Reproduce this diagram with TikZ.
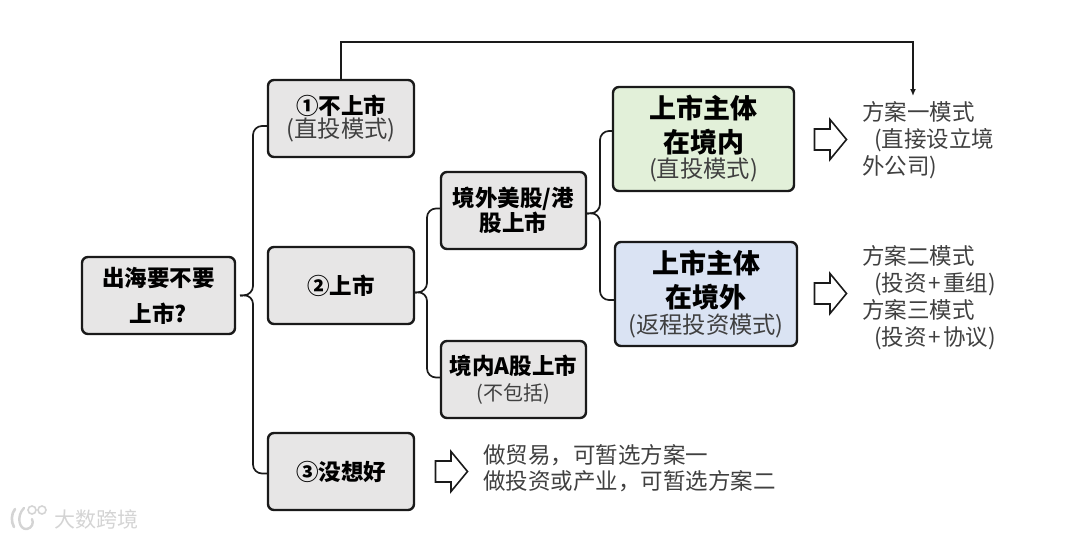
\documentclass[tikz,border=0pt]{standalone}
\usepackage{fontspec}
\setmainfont{Noto Sans CJK SC}
\usetikzlibrary{arrows.meta}
\definecolor{boxgray}{HTML}{E7E6E6}
\definecolor{boxgreen}{HTML}{E2F0D9}
\definecolor{boxblue}{HTML}{DAE3F3}
\definecolor{txtgray}{HTML}{404040}
\definecolor{edge}{HTML}{1A1A1A}
\definecolor{wm}{HTML}{D4D4D4}
\newcommand{\bigb}{\fontsize{27}{32}\bfseries\selectfont}
\newcommand{\reg}{\fontsize{23.3}{27}\mdseries\selectfont\color{txtgray}}
\newcommand{\midb}{\fontsize{22.5}{27}\bfseries\selectfont}
\newcommand{\pl}{\hspace{2pt}+\hspace{2pt}}
\newcommand{\blockarrow}[1]{\draw[hollow] (#1) ++(-16,-10.5) -- ++(15.5,0) -- ++(0,-9.5) -- ++(16.5,20) -- ++(-16.5,20) -- ++(0,-9.5) -- ++(-15.5,0) -- cycle;}
\tikzset{
  x=1pt,y=-1pt,
  box/.style={draw=edge,line width=2.4pt,rounded corners=6pt,fill=boxgray,anchor=north west,inner sep=0pt,outer sep=0pt,align=center,text=black},
  conn/.style={draw=edge,line width=1.7pt,rounded corners=9pt},
  hollow/.style={draw=edge,fill=white,line width=1.6pt,line join=miter},
  plain/.style={anchor=north west,inner sep=0pt,outer sep=0pt,align=left,text=txtgray,font=\fontsize{22.5}{27}\selectfont},
}
\begin{document}
\begin{tikzpicture}
\useasboundingbox (0,0) rectangle (1080,539);
\node[box,minimum width=153pt,minimum height=77pt] (root) at (82,257) {\midb 出海要不要\\[13pt]\midb 上市?};
\node[box,minimum width=146pt,minimum height=77pt] (b1) at (268,80) {\midb ①不上市\\[1pt]\reg (直投模式)};
\node[box,minimum width=146pt,minimum height=77pt] (b2) at (268,247) {\midb ②上市};
\node[box,minimum width=146pt,minimum height=77pt] (b3) at (268,433) {\midb ③没想好};
\node[box,minimum width=145pt,minimum height=77pt] (c1) at (441,172) {\midb 境外美股/港\\[1pt]\midb 股上市};
\node[box,minimum width=145pt,minimum height=77pt] (c2) at (441,341) {\midb 境内A股上市\\[6pt]\fontsize{20}{26}\mdseries\selectfont\color{txtgray}(不包括)};
\node[box,fill=boxgreen,minimum width=181pt,minimum height=104pt] (d1) at (613,87) {\raisebox{-1.5pt}{\bigb 上市主体}\\[7pt]\raisebox{-1.5pt}{\bigb 在境内}\\[2pt]\raisebox{-1.5pt}{\reg (直投模式)}};
\node[box,fill=boxblue,minimum width=182pt,minimum height=104pt] (d2) at (615,242) {\bigb 上市主体\\[7pt]\bigb 在境外\\[3pt]\raisebox{-1pt}{\reg (返程投资模式)}};
\coordinate (a1) at (830.5,139.5);
\coordinate (a2) at (830.5,293.5);
\coordinate (a3) at (451.5,471.5);
\blockarrow{a1}
\blockarrow{a2}
\blockarrow{a3}
\node[plain] (t1) at (862,101) {方案一模式\\\hspace*{12pt}(直接设立境\\外公司)};
\node[plain] (t2) at (862,245) {方案二模式\\\hspace*{12pt}(投资\pl 重组)\\方案三模式\\\hspace*{12pt}(投资\pl 协议)};
\node[plain] (t3) at (483,444.5) {做贸易，可暂选方案一\\[-1pt]做投资或产业，可暂选方案二};
\coordinate (bus1) at (253,295);
\coordinate (bus2) at (427,292);
\coordinate (bus3) at (600,213);
\draw[conn] ([xshift=5pt]root.east) -- (bus1) |- ([yshift=-7.5pt]b1.west);
\draw[conn] ([xshift=5pt]root.east) -- (bus1) |- ([yshift=-2pt]b3.west);
\draw[conn] ([yshift=-7pt]b2.east) -- (bus2) |- ([yshift=2pt]c1.west);
\draw[conn] ([yshift=-7pt]b2.east) -- (bus2) |- ([yshift=2pt]c2.west);
\draw[conn] ([yshift=-3pt]c1.east) -- (bus3) |- ([yshift=8pt]d1.west);
\draw[conn] ([yshift=-3pt]c1.east) -- (bus3) |- ([yshift=-6pt]d2.west);
\coordinate (top) at (913,42);
\draw[draw=edge,line width=1.6pt,-{Latex[length=7pt,width=6pt]}] (b1.north) |- (top) -- ([yshift=5pt]t1.north -| top);
\node[anchor=west,inner sep=0pt,text=wm,font=\fontsize{21}{21}\selectfont] (wmtext) at (54,519) {大数跨境};
\draw[wm,line width=2.6pt,line cap=round] (15,509) .. controls (11,514) and (11,522) .. (14,527);
\draw[wm,line width=2.4pt,line cap=round] (24,508) .. controls (16,516) and (19,530) .. (27,529) .. controls (32,528) and (34,523) .. (32,519);
\draw[wm,line width=1.6pt] (32,510) circle (4pt) (42,510) circle (4pt);
\end{tikzpicture}
\end{document}
